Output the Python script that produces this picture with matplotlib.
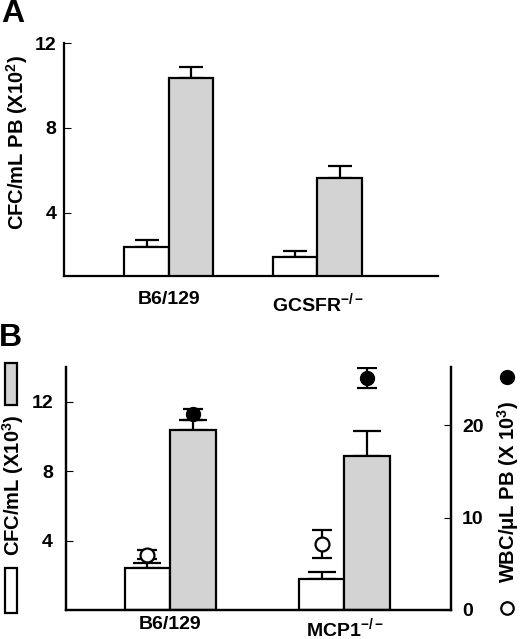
import numpy as np
import matplotlib
matplotlib.use('Agg')
import matplotlib.pyplot as plt
from matplotlib.patches import Rectangle
from matplotlib.lines import Line2D

plt.rcParams['font.family'] = ['Liberation Sans', 'DejaVu Sans']
plt.rcParams['font.weight'] = 'bold'
plt.rcParams['mathtext.fontset'] = 'custom'
plt.rcParams['mathtext.rm'] = 'Liberation Sans:bold'
plt.rcParams['mathtext.bf'] = 'Liberation Sans:bold'
plt.rcParams['mathtext.it'] = 'Liberation Sans:bold'
plt.rcParams['mathtext.default'] = 'bf'

# 数据 A
groups_a = ['B6/129', r'GCSFR$^{-/-}$']
white_a = [2.35, 1.88]
white_a_err = [0.33, 0.30]
gray_a = [10.34, 5.65]
gray_a_err = [0.55, 0.53]

# 数据 B
groups_b = ['B6/129', r'MCP1$^{-/-}$']
white_b = [2.40, 1.81]
white_b_err = [0.29, 0.38]
gray_b = [10.35, 8.90]
gray_b_err = [0.59, 1.41]
wbc_open = [6.0, 7.15]
wbc_open_err = [0.5, 1.48]
wbc_filled = [21.2, 25.17]
wbc_filled_err = [0.6, 1.09]

GRAY = '#d3d3d3'
LW = 1.6
FS = 14
LFS = 14.5

fig = plt.figure(figsize=(5.2, 6.39), dpi=100)


def style_axis(ax):
    ax.tick_params(axis='y', direction='in', length=5, width=0.8, labelsize=FS)
    ax.tick_params(axis='x', length=0, labelsize=FS)
    for s in ax.spines.values():
        s.set_linewidth(LW)


# ---- Panel A ----
ax1 = fig.add_axes([0.124, 0.568, 0.718, 0.3646])
x = np.arange(len(groups_a))
w = 0.30
ax1.bar(x - w / 2, white_a, w, color='white', edgecolor='black', linewidth=LW, zorder=2)
ax1.bar(x + w / 2, gray_a, w, color=GRAY, edgecolor='black', linewidth=LW, zorder=2)
ax1.errorbar(x - w / 2, white_a, yerr=[np.zeros(2), white_a_err], fmt='none', ecolor='black',
             elinewidth=LW, capsize=8.3, capthick=LW, zorder=1)
ax1.errorbar(x + w / 2, gray_a, yerr=[np.zeros(2), gray_a_err], fmt='none', ecolor='black',
             elinewidth=LW, capsize=8.3, capthick=LW, zorder=1)
ax1.set_xlim(-0.703, 1.81)
ax1.set_ylim(1, 12)
ax1.set_yticks([4, 8, 12])
ax1.set_xticks(x)
ax1.set_xticklabels(groups_a)
ax1.spines['top'].set_visible(False)
ax1.spines['right'].set_visible(False)
style_axis(ax1)
ax1.tick_params(axis='y', pad=6)
ax1.tick_params(axis='x', pad=11)
fig.text(16.7 / 520, 1 - 142.5 / 639, r'CFC/mL PB (X10$^2$)', rotation=90,
         ha='center', va='center', fontsize=LFS)
fig.text(12.5 / 520, 1 - 13.5 / 639, 'A', fontsize=23, ha='center', va='center')

# ---- Panel B ----
ax2 = fig.add_axes([0.126, 0.0454, 0.741, 0.380])
x = np.arange(len(groups_b))
w = 0.261
ax2.bar(x - w / 2, white_b, w, color='white', edgecolor='black', linewidth=LW, zorder=2)
ax2.bar(x + w / 2, gray_b, w, color=GRAY, edgecolor='black', linewidth=LW, zorder=2)
ax2.errorbar(x - w / 2, white_b, yerr=[np.zeros(2), white_b_err], fmt='none', ecolor='black',
             elinewidth=LW, capsize=10, capthick=LW, zorder=1)
ax2.errorbar(x + w / 2, gray_b, yerr=[np.zeros(2), gray_b_err], fmt='none', ecolor='black',
             elinewidth=LW, capsize=10, capthick=LW, zorder=1)
ax2.set_xlim(-0.60, 1.61)
ax2.set_ylim(0, 14)
ax2.set_yticks([4, 8, 12])
ax2.set_xticks(x)
ax2.set_xticklabels(groups_b)
ax2.spines['top'].set_visible(False)
style_axis(ax2)
ax2.tick_params(axis='y', pad=9)
ax2.tick_params(axis='x', pad=4.5)

ax3 = ax2.twinx()
ax3.errorbar(x - w / 2, wbc_open, yerr=wbc_open_err, fmt='o', color='black', mfc='white',
             mec='black', mew=LW, ms=10, elinewidth=LW, capsize=7.2, capthick=LW)
ax3.errorbar(x + w / 2, wbc_filled, yerr=wbc_filled_err, fmt='o', color='black', mfc='black',
             mec='black', ms=10, elinewidth=LW, capsize=7.2, capthick=LW)
ax3.set_ylim(0, 26.3)
ax3.set_yticks([0, 10, 20])
ax3.spines['top'].set_visible(False)
style_axis(ax3)
ax3.tick_params(axis='y', pad=8)

fig.text(13 / 520, 1 - 485 / 639, r'CFC/mL (X10$^3$)', rotation=90,
         ha='center', va='center', fontsize=LFS)
fig.text(508 / 520, 1 - 492 / 639, r'WBC/μL PB (X 10$^3$)', rotation=90,
         ha='center', va='center', fontsize=LFS)
fig.text(10.5 / 520, 1 - 338.5 / 639, 'B', fontsize=23, ha='center', va='center')

# 图例框
fig.patches.append(Rectangle((5 / 520, 1 - 405 / 639), 12 / 520, 42 / 639, transform=fig.transFigure,
                             facecolor=GRAY, edgecolor='black', linewidth=LW))
fig.patches.append(Rectangle((5 / 520, 1 - 613 / 639), 12 / 520, 45 / 639, transform=fig.transFigure,
                             facecolor='white', edgecolor='black', linewidth=LW))
fig.lines.append(Line2D([506.7 / 520], [1 - 377 / 639], transform=fig.transFigure, marker='o',
                        ms=10, mfc='black', mec='black'))
fig.lines.append(Line2D([506.7 / 520], [1 - 608 / 639], transform=fig.transFigure, marker='o',
                        ms=9, mfc='white', mec='black', mew=LW))

fig.savefig('out.png', dpi=100)
